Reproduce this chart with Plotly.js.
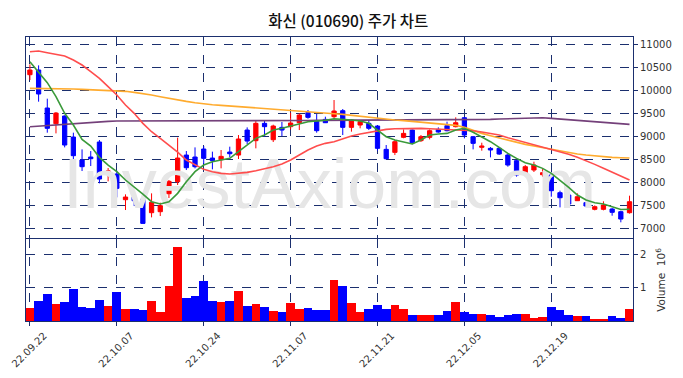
<!DOCTYPE html>
<html>
<head>
<meta charset="utf-8">
<script src="https://cdn.plot.ly/plotly-3.0.1.min.js"></script>
<style>html,body{margin:0;padding:0;background:#fff;}#chart{width:683px;height:378px;}</style>
</head>
<body>
<div id="chart"></div>
<script>
const dates = ["22.09.22","22.09.23","22.09.26","22.09.27","22.09.28","22.09.29","22.09.30","22.10.04","22.10.05","22.10.06",
"22.10.07","22.10.11","22.10.12","22.10.13","22.10.14","22.10.17","22.10.18","22.10.19","22.10.20","22.10.21",
"22.10.24","22.10.25","22.10.26","22.10.27","22.10.28","22.10.31","22.11.01","22.11.02","22.11.03","22.11.04",
"22.11.07","22.11.08","22.11.09","22.11.10","22.11.11","22.11.14","22.11.15","22.11.16","22.11.17","22.11.18",
"22.11.21","22.11.22","22.11.23","22.11.24","22.11.25","22.11.28","22.11.29","22.11.30","22.12.01","22.12.02",
"22.12.05","22.12.06","22.12.07","22.12.08","22.12.09","22.12.12","22.12.13","22.12.14","22.12.15","22.12.16",
"22.12.19","22.12.20","22.12.21","22.12.22","22.12.23","22.12.26","22.12.27","22.12.28","22.12.29","23.01.02"];

const openP = [10336,10437,9615,9276,9442,8987,8489,8554,8879,8230,
8186,7631,7688,7645,7349,7371,7760,8020,8597,8554,
8727,8532,8496,8662,8597,9138,8908,9283,8929,9196,
9211,9297,9514,9334,9369,9427,9557,9196,9247,9283,
9225,8720,8655,8980,9138,8908,8980,9153,9232,9211,
9405,8994,8764,8742,8742,8598,8475,8186,8273,8171,
8165,7782,7732,7609,7566,7422,7422,7429,7371,7349];
const highP = [10560,10538,9817,9528,9456,9081,8720,8684,8922,8316,
8258,7746,7825,7652,7768,7566,8057,8973,8684,8763,
8792,8670,8706,8778,9030,9196,9341,9341,9254,9312,
9514,9499,9572,9485,9427,9788,9593,9370,9340,9355,
9247,8814,8922,9153,9150,9030,9153,9196,9319,9413,
9420,9010,8864,8771,8771,8630,8490,8381,8453,8294,
8215,7825,7768,7768,7580,7508,7595,7450,7390,7717];
const lowP = [10221,9752,9081,9066,8763,8381,8251,8359,7984,8028,
7681,7407,7493,7118,7248,7277,7667,7948,8273,8309,
8395,8287,8309,8547,8511,8836,8742,8994,8879,9009,
9153,9138,9384,9081,9319,9380,9030,9103,9175,9138,
8691,8500,8597,8960,8830,8880,8936,9080,9110,9196,
8958,8720,8691,8547,8600,8345,8129,8143,8230,8129,
7695,7465,7500,7609,7480,7400,7400,7284,7141,7330];
const closeP = [10437,9918,9175,9506,8814,8583,8345,8518,8078,8251,
7876,7688,7609,7118,7573,7501,8028,8532,8323,8345,
8525,8475,8568,8626,8944,8900,9283,9211,9225,9138,
9290,9463,9413,9124,9297,9550,9196,9355,9319,9175,
8742,8518,8886,9066,8864,8994,9124,9095,9124,9297,
9030,8850,8792,8706,8619,8381,8165,8345,8381,8215,
7825,7673,7537,7695,7494,7479,7515,7357,7212,7587];
const volume = [394000,606000,818000,515000,576000,970000,424000,394000,636000,455000,
879000,364000,364000,333000,606000,273000,1060000,2240000,697000,758000,
1210000,606000,576000,606000,909000,455000,515000,424000,303000,273000,
545000,364000,394000,333000,333000,1240000,1060000,545000,273000,364000,
485000,364000,485000,364000,182000,182000,182000,182000,303000,576000,
273000,212000,212000,182000,121000,182000,212000,212000,91000,121000,
424000,333000,182000,152000,152000,61000,61000,152000,91000,364000];

const ma5 = [10618,10401,10163,9860,9500,9247,8936,8792,8547,8381,
8237,8057,7912,7753,7587,7537,7587,7768,8020,8237,
8381,8453,8489,8525,8670,8814,8958,9030,9138,9175,
9225,9283,9319,9334,9350,9384,9377,9355,9334,9283,
9138,8994,8922,8886,8836,8922,9030,9052,9066,9138,
9175,9090,8994,8886,8763,8633,8525,8431,8381,8309,
8201,8057,7898,7732,7623,7566,7537,7479,7420,7425];
const ma20 = [10834,10848,10812,10784,10740,10654,10545,10401,10257,10077,
9896,9680,9500,9283,9102,8958,8814,8660,8489,8381,
8287,8237,8201,8186,8201,8222,8258,8294,8345,8403,
8489,8597,8706,8792,8850,8886,8951,9009,9052,9088,
9124,9153,9167,9175,9175,9175,9167,9160,9153,9153,
9146,9124,9095,9066,9030,8973,8922,8872,8828,8778,
8727,8670,8612,8547,8475,8395,8309,8230,8143,8057];
const ma60 = [10040,10040,10033,10033,10026,10026,10019,10012,10004,9997,
9990,9976,9954,9932,9896,9860,9824,9785,9759,9730,
9701,9687,9673,9658,9644,9629,9615,9601,9586,9572,
9557,9543,9528,9514,9503,9492,9478,9456,9435,9413,
9391,9369,9355,9341,9326,9312,9297,9283,9261,9240,
9196,9128,9066,9016,8965,8915,8872,8828,8792,8756,
8720,8684,8648,8619,8597,8576,8561,8547,8540,8532];
const ma120 = [9211,9225,9240,9254,9268,9283,9297,9312,9319,9326,
9334,9334,9334,9334,9330,9330,9330,9332,9334,9334,
9334,9335,9336,9337,9338,9339,9340,9341,9342,9343,
9344,9345,9346,9347,9348,9350,9350,9351,9352,9352,
9353,9353,9354,9354,9354,9355,9355,9355,9355,9355,
9355,9355,9362,9369,9377,9384,9391,9398,9405,9405,
9391,9377,9362,9348,9334,9319,9305,9290,9276,9261];

const tickIdx = [0,10,20,30,40,50,60];

const idx = dates.map((d,i)=>i);
const upCol = '#ff0000', dnCol = '#0000ff';
const volCols = closeP.map((c,i)=> c >= openP[i] ? upCol : dnCol);
const gridCol = '#1b2f6e';
const axisFont = {family:'DejaVu Sans', size:10, color:'#333'};

const traces = [
  {type:'scatter', mode:'text', x:[34.5], y:[7830], text:['InvestAxiom.com'],
   textfont:{family:'Liberation Sans, Arial', size:70, color:'#e6e6e6'},
   hoverinfo:'skip', showlegend:false, xaxis:'x', yaxis:'y'},
  {type:'scatter', mode:'lines', x:idx, y:ma120, line:{color:'#74407a', width:1.6}, xaxis:'x', yaxis:'y', showlegend:false},
  {type:'scatter', mode:'lines', x:idx, y:ma60, line:{color:'#ffab2e', width:1.6}, xaxis:'x', yaxis:'y', showlegend:false},
  {type:'scatter', mode:'lines', x:idx, y:ma20, line:{color:'#ff4d4d', width:1.6}, xaxis:'x', yaxis:'y', showlegend:false},
  {type:'scatter', mode:'lines', x:idx, y:ma5, line:{color:'#3a9a3a', width:1.6}, xaxis:'x', yaxis:'y', showlegend:false},
  {type:'candlestick', x:idx, open:openP, high:highP, low:lowP, close:closeP,
   increasing:{line:{color:upCol, width:1}, fillcolor:upCol},
   decreasing:{line:{color:dnCol, width:1}, fillcolor:dnCol},
   whiskerwidth:0, xaxis:'x', yaxis:'y', showlegend:false},
  {type:'bar', x:idx, y:volume, marker:{color:volCols, line:{width:0}}, xaxis:'x2', yaxis:'y2', showlegend:false}
];

const xBase = {
  range:[-0.45, 69.4], tickmode:'array', tickvals:tickIdx, ticktext:tickIdx.map(i=>dates[i]),
  showgrid:true, gridcolor:gridCol, griddash:'dash', gridwidth:1,
  showline:true, linecolor:gridCol, linewidth:1, mirror:true, zeroline:false,
  rangeslider:{visible:false}
};

const layout = {
  width:683, height:378,
  margin:{l:26, r:50, t:37, b:57},
  paper_bgcolor:'#fff', plot_bgcolor:'#fff',
  title:{text:'화신 (010690) 주가 차트', x:0.51, xref:'container', y:0.958, yref:'container',
         font:{family:'Noto Sans CJK KR', size:15.5, color:'#111', weight:500}},
  showlegend:false, bargap:0,
  xaxis: Object.assign({}, xBase, {anchor:'y', showticklabels:false, ticks:''}),
  xaxis2: Object.assign({}, xBase, {anchor:'y2', matches:'x', ticks:'outside', ticklen:4, tickcolor:gridCol,
           tickangle:-45, tickfont:axisFont, ticklabelshift:14, ticklabeloverflow:'allow'}),
  yaxis: {domain:[0.292,1], range:[6800,11152], side:'right', tick0:7000, dtick:500, tickformat:'d',
          showgrid:true, gridcolor:gridCol, griddash:'dash', showline:true, linecolor:gridCol, mirror:true,
          ticks:'outside', ticklen:4, tickcolor:gridCol, tickfont:axisFont, zeroline:false},
  yaxis2: {domain:[0,0.289], range:[0,2480000], side:'right', tickmode:'array', tickvals:[1000000,2000000], ticktext:['1','2'],
          showgrid:true, gridcolor:gridCol, griddash:'dash', showline:true, linecolor:gridCol, mirror:true,
          ticks:'outside', ticklen:4, tickcolor:gridCol, tickfont:axisFont, zeroline:false,
          title:{text:'Volume  10<sup>6</sup>', font:{family:'DejaVu Sans', size:10.5, color:'#333'}, standoff:12}}
};

Plotly.newPlot('chart', traces, layout, {displayModeBar:false, staticPlot:true});
</script>
</body>
</html>
